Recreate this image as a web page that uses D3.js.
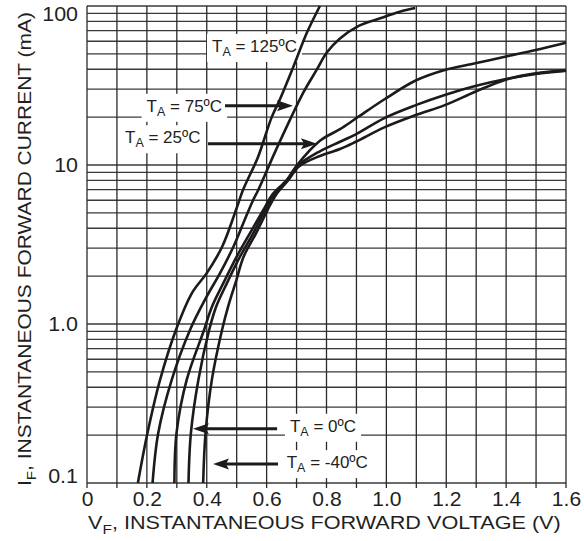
<!DOCTYPE html>
<html><head><meta charset="utf-8">
<script src="https://cdn.jsdelivr.net/npm/d3@7"></script>
<style>
body{margin:0;background:#fff}
svg{display:block}
text{font-family:"Liberation Sans",Arial,Helvetica,sans-serif;fill:#231f20}
</style>
</head><body>
<svg id="c" width="584" height="541"></svg>
<script>
// ---- data ----
const xTickValues = [0, 0.2, 0.4, 0.6, 0.8, 1.0, 1.2, 1.4, 1.6];
const xTickLabels = ["0", "0.2", "0.4", "0.6", "0.8", "1.0", "1.2", "1.4", "1.6"];
const yTickValues = [0.1, 1, 10, 100];
const yTickLabels = ["0.1", "1.0", "10", "100"];

const seriesNames = ["125", "75", "25", "0", "-40"];

const v125 = [0.170, 0.202, 0.244, 0.297, 0.351, 0.400, 0.451, 0.500, 0.521, 0.571, 0.617, 0.645, 0.689, 0.734, 0.778];
const i125 = [0.1, 0.206, 0.445, 0.917, 1.57, 2.09, 3.05, 5.37, 6.96, 11.2, 20.0, 26.0, 41.3, 67.6, 100];

const v75 = [0.219, 0.238, 0.283, 0.344, 0.400, 0.444, 0.489, 0.522, 0.555, 0.572, 0.631, 0.722, 0.767, 0.801, 0.845, 0.906, 0.979, 1.045, 1.096];
const i75 = [0.1, 0.206, 0.445, 0.917, 1.49, 2.08, 3.06, 4.30, 6.02, 6.96, 12.4, 28.4, 39.6, 51.0, 62.5, 74.8, 83.7, 92.1, 97.1];

const v25 = [0.292, 0.299, 0.333, 0.391, 0.417, 0.455, 0.500, 0.544, 0.589, 0.618, 0.667, 0.700, 0.778, 0.845, 0.898, 0.995, 1.098, 1.195, 1.297, 1.396, 1.499, 1.600];
const i25 = [0.1, 0.206, 0.445, 0.917, 1.28, 1.80, 2.65, 3.72, 5.21, 6.48, 8.05, 9.9, 14.2, 16.8, 19.6, 26.0, 34.0, 39.6, 43.6, 48.0, 52.9, 58.8];

const v0 = [0.339, 0.347, 0.372, 0.408, 0.431, 0.467, 0.511, 0.555, 0.595, 0.625, 0.670, 0.704, 0.778, 0.845, 0.898, 0.995, 1.098, 1.195, 1.297, 1.396, 1.499, 1.600];
const i0 = [0.1, 0.206, 0.445, 0.917, 1.28, 1.80, 2.65, 3.72, 5.21, 6.48, 8.05, 9.9, 12.2, 14.0, 15.6, 19.8, 23.8, 27.6, 31.4, 34.6, 37.4, 39.2];

const vM40 = [0.388, 0.396, 0.417, 0.451, 0.473, 0.499, 0.523, 0.5645, 0.603, 0.631, 0.673, 0.708, 0.778, 0.845, 0.898, 0.995, 1.098, 1.195, 1.297, 1.396, 1.499, 1.600];
const iM40 = [0.1, 0.206, 0.445, 0.917, 1.32, 1.89, 2.65, 3.72, 5.21, 6.48, 8.05, 9.8, 11.4, 12.6, 14.0, 17.3, 20.6, 23.8, 28.9, 34.3, 37.7, 39.2];

// annotation labels: temperature text, label anchor (V, mA), arrow from/to (V, mA)
const labelTemps = ["125", "75", "25", "0", "-40"];
const labelV = [0.4175, 0.199, 0.127, 0.678, 0.667];
const labelI = [51.4, 21.6, 13.7, 0.210, 0.124];
const arrowFromV = [null, 0.461, 0.404, 0.635, 0.638];
const arrowToV = [null, 0.688, 0.768, 0.354, 0.421];
const arrowI = [null, 23.6, 13.6, 0.219, 0.1315];

const xTitleMain = "V", xTitleSub = "F", xTitleRest = ", INSTANTANEOUS FORWARD VOLTAGE (V)";
const yTitleMain = "I", yTitleSub = "F", yTitleRest = ", INSTANTANEOUS FORWARD CURRENT (mA)";

// ---- drawing ----
const svg = d3.select("#c");
const x = d3.scaleLinear().domain([0, 1.6]).range([87, 566]);
const y = d3.scaleLog().domain([0.1, 100]).range([483, 6]);

const gridG = svg.append("g");
gridG.selectAll("line.h").data(y.ticks()).join("line")
  .attr("x1", x(0)).attr("x2", x(1.6))
  .attr("y1", d => y(d)).attr("y2", d => y(d))
  .attr("stroke", "#3a3a3a").attr("stroke-width", 1.3);
gridG.selectAll("line.v").data(x.ticks(16)).join("line")
  .attr("x1", d => x(d)).attr("x2", d => x(d))
  .attr("y1", y(100)).attr("y2", y(0.1) + 5)
  .attr("stroke", "#2a2a2a").attr("stroke-width", 1.3);

const boxG = svg.append("g");
const curveG = svg.append("g");
const annG = svg.append("g");

const allV = [v125, v75, v25, v0, vM40];
const allI = [i125, i75, i25, i0, iM40];
const line = d3.line().x(d => x(d[0])).y(d => y(d[1])).curve(d3.curveCatmullRom.alpha(0.5));
seriesNames.forEach((name, k) => {
  const pts = allV[k].map((v, j) => [v, allI[k][j]]);
  curveG.append("path").attr("d", line(pts))
    .attr("fill", "none").attr("stroke", "#1e1a1b").attr("stroke-width", 2.6)
    .attr("stroke-linejoin", "round");
});

const xAxis = d3.axisBottom(x).tickValues(xTickValues)
  .tickFormat((d, i) => xTickLabels[i]).tickSize(0).tickPadding(0);
const xa = svg.append("g").call(xAxis);
xa.select(".domain").remove();
xa.selectAll(".tick text")
  .attr("y", 506).attr("dy", null)
  .attr("font-size", 19.5).attr("fill", "#231f20")
  .attr("font-family", '"Liberation Sans",Arial,sans-serif')
  .attr("transform", "translate(0,506) scale(1.08,1) translate(0,-506)");

const ya = svg.append("g");
yTickValues.forEach((v, i) => {
  const cy = Math.max(14, Math.min(476, y(v)));
  ya.append("text").text(yTickLabels[i])
    .attr("text-anchor", "end").attr("font-size", 19.5)
    .attr("transform", `translate(78,${cy + 7}) scale(1.1,1)`);
});

function titleText(g, main, sub, rest, size) {
  const t = g.append("text").attr("font-size", size);
  t.append("tspan").text(main);
  t.append("tspan").text(sub).attr("font-size", size * 0.72).attr("dy", 5);
  t.append("tspan").text(rest).attr("dy", -5);
  return t;
}
const xt = svg.append("g");
const xtt = titleText(xt, xTitleMain, xTitleSub, xTitleRest, 18.6);
{
  const w = xtt.node().getComputedTextLength();
  xt.attr("transform", `translate(88,529) scale(${473 / w},1)`);
}
const yt = svg.append("g");
const ytt = titleText(yt, yTitleMain, yTitleSub, yTitleRest, 18.6);
{
  const w = ytt.node().getComputedTextLength();
  yt.attr("transform", `translate(31,486) rotate(-90) scale(${474 / w},1)`);
}

labelTemps.forEach((tmp, k) => {
  const lx = x(labelV[k]), ly = y(labelI[k]);
  const t = annG.append("text").attr("x", lx).attr("y", ly).attr("font-size", 17);
  t.append("tspan").text("T");
  t.append("tspan").text("A").attr("font-size", 12.5).attr("dy", 4);
  t.append("tspan").text(" = " + tmp + "ºC").attr("dy", -4);
  const bb = t.node().getBBox();
  boxG.append("rect").attr("x", bb.x - 5).attr("y", bb.y - 3)
    .attr("width", bb.width + 10).attr("height", bb.height + 6).attr("fill", "#fff");
  if (arrowFromV[k] !== null) {
    const x1 = x(arrowFromV[k]), x2 = x(arrowToV[k]), ay = y(arrowI[k]);
    const dir = Math.sign(x2 - x1);
    const headL = 16, headW = 5.5;
    annG.append("line").attr("x1", x1).attr("x2", x2 - dir * headL * 0.8)
      .attr("y1", ay).attr("y2", ay).attr("stroke", "#1e1a1b").attr("stroke-width", 3);
    annG.append("path")
      .attr("d", `M${x2},${ay} L${x2 - dir * headL},${ay - headW} L${x2 - dir * headL * 0.8},${ay} L${x2 - dir * headL},${ay + headW} Z`)
      .attr("fill", "#1e1a1b");
  }
});
</script>
</body></html>
